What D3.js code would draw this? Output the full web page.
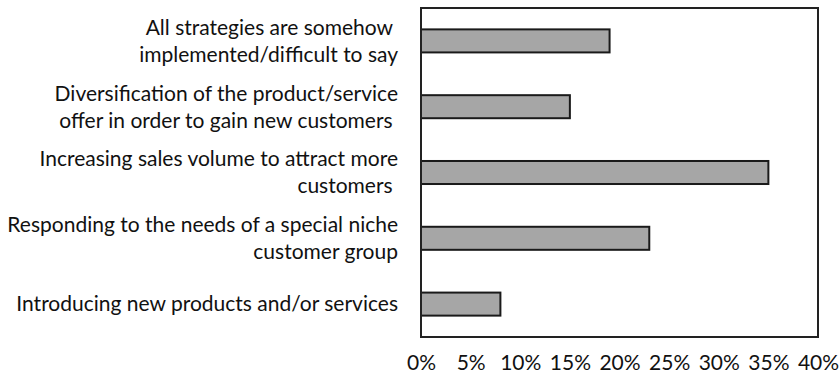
<!DOCTYPE html>
<html>
<head>
<meta charset="utf-8">
<script src="https://cdn.jsdelivr.net/npm/d3@7"></script>
<style>
  body { margin: 0; background: #fff; }
  text { font-family: Lato, "Open Sans", sans-serif; fill: #111; white-space: pre; }
</style>
</head>
<body>
<div id="chart"></div>
<script>
// Data
const categories = [
    "All strategies are somehow \nimplemented/difficult to say",
    "Diversification of the product/service\noffer in order to gain new customers ",
    "Increasing sales volume to attract more\ncustomers ",
    "Responding to the needs of a special niche\ncustomer group",
    "Introducing new products and/or services"
];
const values = [19, 15, 35, 23, 8];
const tickValues = [0, 5, 10, 15, 20, 25, 30, 35, 40];

const W = 839, H = 376;
const margin = { top: 8, right: 21, bottom: 39, left: 421 };
const width = W - margin.left - margin.right;
const height = H - margin.top - margin.bottom;

const svg = d3.select("#chart")
    .append("svg")
    .attr("width", W)
    .attr("height", H)
    .append("g")
    .attr("transform", `translate(${margin.left},${margin.top})`);

const x = d3.scaleLinear().domain([0, 40]).range([0, width]);
const y = d3.scaleBand()
    .domain(categories)
    .range([0, height])
    .paddingInner(0.65)
    .paddingOuter(0.325);

// Bars
svg.selectAll(".bar")
    .data(categories)
    .enter()
    .append("rect")
    .attr("class", "bar")
    .attr("x", x(0))
    .attr("y", d => y(d))
    .attr("width", (d, i) => x(values[i]) - x(0))
    .attr("height", y.bandwidth())
    .style("fill", "#a6a6a6")
    .style("stroke", "#1a1a1a")
    .style("stroke-width", 2);

// Plot frame
svg.append("rect")
    .attr("x", 0)
    .attr("y", 0)
    .attr("width", width)
    .attr("height", height)
    .style("fill", "none")
    .style("stroke", "#222")
    .style("stroke-width", 2);

// X tick labels
const xAxis = svg.append("g")
    .attr("transform", `translate(0,${height})`)
    .call(d3.axisBottom(x).tickValues(tickValues).tickFormat(d => d + "%").tickSize(0).tickPadding(18));
xAxis.select(".domain").remove();
xAxis.selectAll("text")
    .style("font-size", "21px")
    .style("font-family", "Lato, 'Open Sans', sans-serif")
    .attr("fill", "#111");

// Category labels
const lineH = 27;
const labels = svg.selectAll(".cat")
    .data(categories)
    .enter()
    .append("text")
    .attr("class", "cat")
    .attr("text-anchor", "end")
    .style("font-size", "21px");

labels.each(function(d) {
    const lines = d.split("\n");
    const cy = y(d) + y.bandwidth() / 2;
    const start = cy - (lines.length - 1) * lineH / 2;
    d3.select(this).selectAll("tspan")
        .data(lines)
        .enter()
        .append("tspan")
        .attr("x", -23)
        .attr("y", (l, i) => start + i * lineH)
        .attr("dy", "0.35em")
        .text(l => l);
});
</script>
</body>
</html>
